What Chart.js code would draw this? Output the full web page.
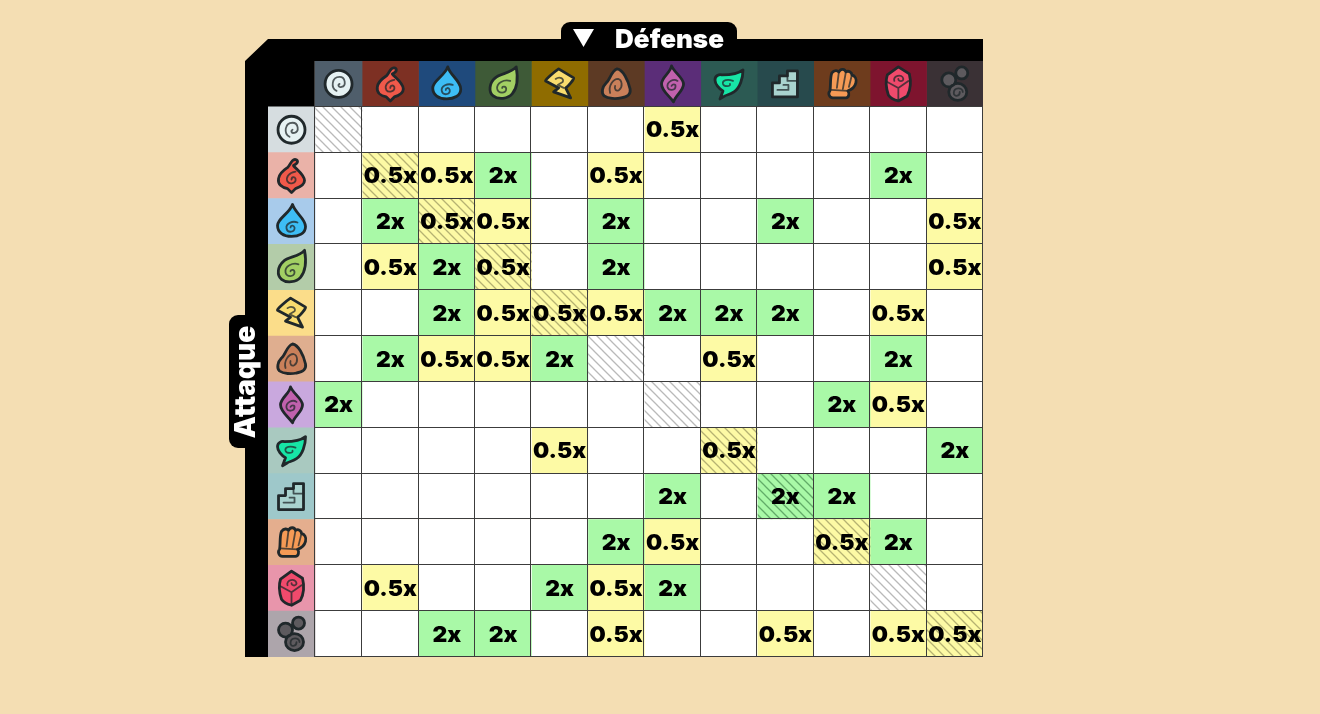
<!DOCTYPE html>
<html lang="fr">
<head>
    <meta charset="UTF-8">
    <title>Table des types</title>
    <script src="https://cdn.jsdelivr.net/npm/chart.js"></script>
    <style>
        body { margin: 0; background: #f4deb3; }
        canvas { display: block; }
    </style>
</head>
<body>
    <canvas id="typeChart" width="1320" height="714"></canvas>
    <script>
        // Attacking type on the rows, defending type on the columns. Empty string = no modifier.
        const types = ['Neutre', 'Feu', 'Eau', 'Nature', 'Électrique', 'Terre', 'Mental', 'Vent', 'Numérique', 'Mêlée', 'Cristal', 'Toxique'];

        const neutreRow     = ['', '', '', '', '', '', '0.5x', '', '', '', '', ''];
        const feuRow        = ['', '0.5x', '0.5x', '2x', '', '0.5x', '', '', '', '', '2x', ''];
        const eauRow        = ['', '2x', '0.5x', '0.5x', '', '2x', '', '', '2x', '', '', '0.5x'];
        const natureRow     = ['', '0.5x', '2x', '0.5x', '', '2x', '', '', '', '', '', '0.5x'];
        const electriqueRow = ['', '', '2x', '0.5x', '0.5x', '0.5x', '2x', '2x', '2x', '', '0.5x', ''];
        const terreRow      = ['', '2x', '0.5x', '0.5x', '2x', '', '', '0.5x', '', '', '2x', ''];
        const mentalRow     = ['2x', '', '', '', '', '', '', '', '', '2x', '0.5x', ''];
        const ventRow       = ['', '', '', '', '0.5x', '', '', '0.5x', '', '', '', '2x'];
        const numeriqueRow  = ['', '', '', '', '', '', '2x', '', '2x', '2x', '', ''];
        const meleeRow      = ['', '', '', '', '', '2x', '0.5x', '', '', '0.5x', '2x', ''];
        const cristalRow    = ['', '0.5x', '', '', '2x', '0.5x', '2x', '', '', '', '', ''];
        const toxiqueRow    = ['', '', '2x', '2x', '', '0.5x', '', '', '0.5x', '', '0.5x', '0.5x'];

        const matchups = [neutreRow, feuRow, eauRow, natureRow, electriqueRow, terreRow, mentalRow, ventRow, numeriqueRow, meleeRow, cristalRow, toxiqueRow];

        const headerColors = ['#4f5e6b', '#7d3023', '#1f4a7c', '#3e5a37', '#8f6c00', '#5d3a24', '#5b2d78', '#2c5a53', '#274a4d', '#6e3c1d', '#7e142e', '#3a3135'];
        const tintColors = ['#d6dde0', '#eab2a8', '#a8cbeb', '#b3cca9', '#fbdd8a', '#dfae8f', '#c9a8de', '#a9c9c0', '#9ec8ca', '#e4ae8e', '#e895ab', '#ada5ab'];
        const cellColors = { '': '#ffffff', '0.5x': '#fdfaa5', '2x': '#a9f9a7' };
        const hatchColors = { '': '#b9b9b9', '0.5x': '#b5b272', '2x': '#62ac68' };

        const INK = '#20282b';

        // Type glyphs, drawn around 0,0. Fill outline first, then the inner curl.
        const glyphs = [
            { fill: '#e6f2f3', body: 'M-13.5,0 a13.5,13.5 0 1 0 27,0 a13.5,13.5 0 1 0 -27,0 Z', curl: 'M-2,7 C-8,4 -7,-7 1,-7 C7,-7 8,2 3,3 C0,4 -1,1 1,0' },
            { fill: '#f0594a', body: 'M2,-10 C4,-7 13,-1 13,5 C13,10 7,12 4,13 L0,17 L-4,13 C-9,12 -14,9 -13,3 C-12,-3 -7,-6 -4,-8 C-2,-10 -1,-13 1,-15 C3,-17 6,-16 6,-14 C6,-12 4,-11 2,-10 Z', curl: 'M4,-4 C-3,-3 -6,2 -4,6 C-2,9 5,8 4,3 C3,1 0,1 0,4' },
            { fill: '#3dbdf5', body: 'M1,-17 C3,-9 14,-3 14,5 C14,12 7,15 0,15 C-8,15 -14,11 -14,4 C-14,-3 -2,-8 1,-17 Z', curl: 'M6,1 C1,-1 -6,2 -5,7 C-4,12 4,11 3,6 C2,3 -1,4 -1,6' },
            { fill: '#a2cf63', body: 'M13,-17 C15,-6 14,4 9,10 C5,15 -5,16 -10,12 C-15,8 -14,-1 -8,-6 C-3,-11 7,-10 13,-17 Z', curl: 'M7,-3 C1,-5 -7,-1 -6,5 C-5,10 3,10 3,5 C3,2 -1,2 -1,4' },
            { fill: '#f9dc6e', body: 'M-1,-15 L14,-6 C15,-5 8,3 6,4 L11,14 L-6,8 L-1,4 L-14,-3 C-15,-4 -4,-13 -1,-15 Z', curl: 'M-4,-5 C0,-8 5,-5 3,-2 L-2,1 L4,4' },
            { fill: '#c9805a', body: 'M1,-15 C7,-14 12,-4 14,5 C15,11 11,13 5,14 C0,15 -8,15 -12,12 C-15,9 -14,3 -10,-1 C-6,-4 -5,-13 1,-15 Z', curl: 'M-6,9 C-8,2 -3,-5 2,-5 C6,-4 7,3 3,6 C0,8 -2,5 -1,2' },
            { fill: '#c061ad', body: 'M-1,-18 C1,-12 11,-6 11,0 C11,7 3,11 1,18 C-3,12 -11,7 -11,0 C-11,-7 -2,-11 -1,-18 Z', curl: 'M5,-3 C1,-6 -6,-2 -5,3 C-4,7 3,7 3,2 C3,0 0,0 -1,2' },
            { fill: '#17e5a6', body: 'M14,-14 C14,-6 11,4 5,8 C1,11 -3,11 -4,12 L-9,15 L-6,7 C-10,5 -14,0 -14,-4 C-14,-8 -10,-10 -7,-9 C-3,-9 8,-9 14,-14 Z', curl: 'M4,-3 C-1,-5 -7,-4 -6,0 C-5,3 2,3 1,0' },
            { fill: '#a9d3cf', body: 'M-13,-1 H-6 V-8 H2 V-13 H12 V13 H-13 Z', curl: 'M2,-8 V-3 H12 M-8,6 H3 V1 H-2' },
            { fill: '#f59a55', body: 'M-10,-11 C-7,-15 -4,-13 -3,-12 C-1,-16 3,-15 4,-12 C7,-14 10,-11 10,-9 C13,-8 15,-5 14,-1 C13,3 9,6 6,7 C8,9 7,14 4,14 L-9,14 C-13,14 -14,9 -12,7 C-11,3 -12,-7 -10,-11 Z', curl: 'M-3,-12 L-5,4 M4,-12 L1,5 M10,-9 L7,3 M-11,6 L6,7' },
            { fill: '#f04a6c', body: 'M0,-17 L11,-10 C13,-2 12,6 9,12 L0,17 C-4,16 -8,14 -10,11 C-12,5 -13,-3 -11,-9 Z', curl: 'M-11,-2 L0,4 L10,-3 M0,4 V16 M-4,-3 C-6,-8 4,-11 5,-5 C5,-2 0,-2 0,-5' },
            { fill: '#5d5a5e', body: 'M-13,-4 a7,7 0 1 0 14,0 a7,7 0 1 0 -14,0 Z M1,-11 a6,6 0 1 0 12,0 a6,6 0 1 0 -12,0 Z M-6,8 a9,8.5 0 1 0 18,0 a9,8.5 0 1 0 -18,0 Z', curl: 'M8,8 C8,3 -1,3 -1,9 C-1,13 5,13 5,8' }
        ];

        // Two narrow columns (type swatches and the first type), the others a bit wider
        const columnEdges = [0];
        for (let i = 0; i < types.length + 1; i++) {
            columnEdges.push(columnEdges[i] + (i < 2 ? 1 : 1.2));
        }
        const rowLabels = [''].concat(types);

        function hatch(base, line) {
            const tile = document.createElement('canvas');
            tile.width = 9;
            tile.height = 9;
            const c = tile.getContext('2d');
            c.fillStyle = base;
            c.fillRect(0, 0, 9, 9);
            c.strokeStyle = line;
            c.lineWidth = 1.3;
            c.beginPath();
            c.moveTo(-2, -2);
            c.lineTo(11, 11);
            c.moveTo(-2, 7);
            c.lineTo(2, 11);
            c.moveTo(7, -2);
            c.lineTo(11, 2);
            c.stroke();
            return c.createPattern(tile, 'repeat');
        }

        function cellColor(row, col) {
            const value = matchups[row][col];
            return row === col ? hatch(cellColors[value], hatchColors[value]) : cellColors[value];
        }

        const swatchDataset = {
            label: 'Attaque',
            data: rowLabels.map((_, r) => r === 0 ? null : [columnEdges[0], columnEdges[1]]),
            backgroundColor: rowLabels.map((_, r) => r === 0 ? 'transparent' : tintColors[r - 1]),
            grouped: false
        };
        const columnDatasets = types.map((type, c) => ({
            label: type,
            data: rowLabels.map(() => [columnEdges[c + 1], columnEdges[c + 2]]),
            backgroundColor: rowLabels.map((_, r) => r === 0 ? headerColors[c] : cellColor(r - 1, c)),
            grouped: false
        }));

        function drawGlyph(ctx, index, x, y) {
            const g = glyphs[index];
            ctx.save();
            ctx.translate(x, y);
            ctx.lineJoin = 'round';
            ctx.lineCap = 'round';
            ctx.strokeStyle = INK;
            ctx.fillStyle = g.fill;
            ctx.lineWidth = 2.8;
            const body = new Path2D(g.body);
            ctx.fill(body);
            ctx.stroke(body);
            ctx.lineWidth = 1.8;
            ctx.globalAlpha = 0.75;
            ctx.stroke(new Path2D(g.curl));
            ctx.restore();
        }

        // Black frame with the cut corner and both tabs, behind the table
        const framePlugin = {
            id: 'frame',
            beforeDatasetsDraw(chart) {
                const { ctx, chartArea: a } = chart;
                const left = a.left - 23, top = a.top - 22;
                ctx.save();
                ctx.fillStyle = '#000000';
                ctx.beginPath();
                ctx.moveTo(left + 23, top);
                ctx.lineTo(a.right, top);
                ctx.lineTo(a.right, a.top + 1);
                ctx.lineTo(a.left + 47, a.top + 1);
                ctx.lineTo(a.left + 47, a.top + 46);
                ctx.lineTo(a.left, a.top + 46);
                ctx.lineTo(a.left, a.bottom);
                ctx.lineTo(left, a.bottom);
                ctx.lineTo(left, a.top);
                ctx.closePath();
                ctx.fill();

                // Défense tab
                ctx.beginPath();
                ctx.roundRect(561, 22, 176, 24, [9, 9, 0, 0]);
                ctx.fill();
                // Attaque tab
                ctx.beginPath();
                ctx.roundRect(229, 315, 24, 133, [9, 0, 0, 9]);
                ctx.fill();

                ctx.fillStyle = '#ffffff';
                ctx.beginPath();
                ctx.moveTo(573, 29);
                ctx.lineTo(594, 29);
                ctx.lineTo(583.5, 47);
                ctx.closePath();
                ctx.fill();

                ctx.font = '900 26px Inter';
                ctx.textAlign = 'center';
                ctx.textBaseline = 'middle';
                ctx.fillText('Défense', 669.5, 40);
                ctx.font = '900 28px Inter';
                ctx.translate(246, 382);
                ctx.rotate(-Math.PI / 2);
                ctx.fillText('Attaque', 0, 1);
                ctx.restore();
            }
        };

        // Grid lines, modifier labels and type glyphs on top of the bars
        const tablePlugin = {
            id: 'table',
            afterDatasetsDraw(chart) {
                const { ctx, chartArea: a } = chart;
                const x = chart.scales.x;
                const y = chart.scales.y;

                ctx.save();
                ctx.strokeStyle = '#3c3c3c';
                ctx.lineWidth = 1;
                const bodyTop = Math.round((y.getPixelForValue(0) + y.getPixelForValue(1)) / 2);
                ctx.beginPath();
                for (let c = 1; c < columnEdges.length; c++) {
                    const px = Math.round(x.getPixelForValue(columnEdges[c])) - 0.5;
                    ctx.moveTo(px, c === 1 ? a.top : bodyTop);
                    ctx.lineTo(px, a.bottom);
                }
                for (let r = 1; r <= types.length + 1; r++) {
                    const py = r <= types.length
                        ? Math.round((y.getPixelForValue(r - 1) + y.getPixelForValue(r)) / 2) - 0.5
                        : a.bottom - 0.5;
                    ctx.moveTo(x.getPixelForValue(columnEdges[1]), py);
                    ctx.lineTo(a.right, py);
                }
                ctx.stroke();

                ctx.fillStyle = '#000000';
                ctx.font = '900 22px Inter';
                ctx.textAlign = 'center';
                ctx.textBaseline = 'middle';
                types.forEach((type, c) => {
                    const bars = chart.getDatasetMeta(c + 1).data;
                    const head = bars[0].getCenterPoint();
                    drawGlyph(ctx, c, head.x, head.y);
                    matchups.forEach((row, r) => {
                        const center = bars[r + 1].getCenterPoint();
                        if (row[c]) {
                            // the original face is wider than Inter
                            ctx.save();
                            ctx.translate(center.x, center.y + 1);
                            ctx.scale(1.04, 1);
                            ctx.fillText(row[c], 0, 0);
                            ctx.restore();
                        }
                    });
                });
                chart.getDatasetMeta(0).data.forEach((bar, r) => {
                    if (r > 0) drawGlyph(ctx, r - 1, bar.getCenterPoint().x, bar.getCenterPoint().y);
                });
                ctx.restore();
            }
        };

        new Chart(document.getElementById('typeChart'), {
            type: 'bar',
            data: { labels: rowLabels, datasets: [swatchDataset].concat(columnDatasets) },
            options: {
                indexAxis: 'y',
                responsive: false,
                animation: false,
                devicePixelRatio: 1,
                layout: { padding: { left: 268, right: 337, top: 61, bottom: 57 } },
                datasets: { bar: { barPercentage: 1, categoryPercentage: 1, borderWidth: 0 } },
                scales: {
                    x: { type: 'linear', display: false, min: 0, max: columnEdges[columnEdges.length - 1] },
                    y: { type: 'category', display: false }
                },
                plugins: { legend: { display: false }, tooltip: { enabled: false } }
            },
            plugins: [framePlugin, tablePlugin]
        });
    </script>
</body>
</html>
